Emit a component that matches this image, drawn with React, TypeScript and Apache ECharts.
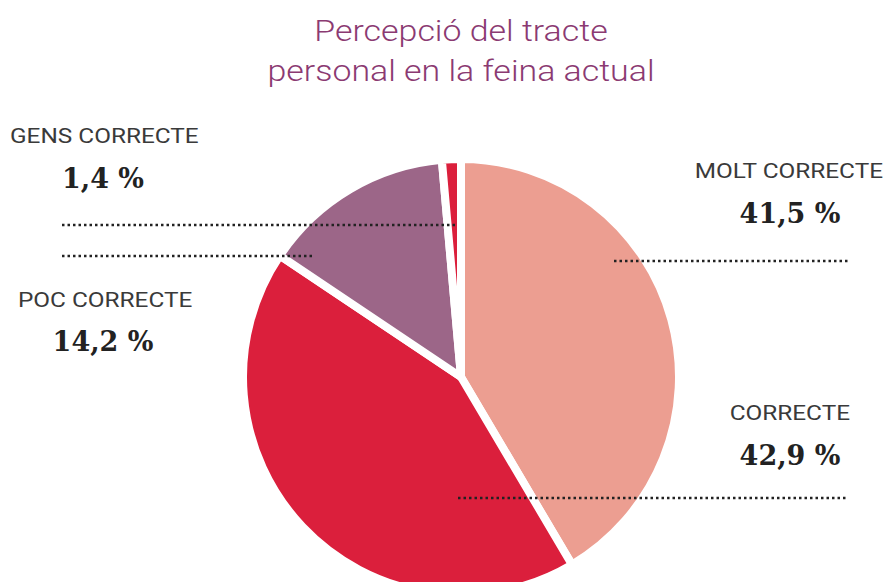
import React, { useEffect, useRef } from "react";
import * as echarts from "echarts";

const categories = ["MOLT CORRECTE", "CORRECTE", "POC CORRECTE", "GENS CORRECTE"];
const values = [41.5, 42.9, 14.2, 1.4];
const colors = ["#EC9E91", "#DB1F3C", "#9C6688", "#DB1F3C"];
const titleLines = ["Percepció del tracte", "personal en la feina actual"];

// label layout (positions only)
const labelPos = [
  { nameX: 883, nameY: 171, nameAlign: "right", valX: 790, valY: 213, line: [614, 848, 261] },
  { nameX: 850, nameY: 413, nameAlign: "right", valX: 790, valY: 455, line: [458, 848, 498] },
  { nameX: 18, nameY: 300, nameAlign: "left", valX: 103, valY: 341, line: [62, 315, 256] },
  { nameX: 10, nameY: 136, nameAlign: "left", valX: 103, valY: 178, line: [62, 455, 225] },
];

const fmt = (v: number) => v.toFixed(1).replace(".", ",") + " %";

export default function App() {
  const ref = useRef<HTMLDivElement>(null);
  useEffect(() => {
    document.body.style.margin = "0";
    const chart = echarts.init(ref.current!, null, { renderer: "svg" });
    const graphics: any[] = [];
    titleLines.forEach((t, i) => {
      graphics.push({
        type: "text",
        x: 461,
        y: 31 + i * 40,
        scaleX: 1.13,
        style: {
          text: t,
          fill: "#8B3A72",
          font: "300 30px Roboto",
          textAlign: "center",
          textVerticalAlign: "middle",
        },
      });
    });
    categories.forEach((c, i) => {
      const p = labelPos[i];
      graphics.push({
        type: "text",
        x: p.nameX,
        y: p.nameY,
        z: 10,
        scaleX: 1.16,
        style: {
          text: c,
          fill: "#3a3a3a",
          font: "400 21px Roboto",
          textAlign: p.nameAlign,
          textVerticalAlign: "middle",
        },
      });
      graphics.push({
        type: "text",
        x: p.valX,
        y: p.valY,
        z: 10,
        style: {
          text: fmt(values[i]),
          fill: "#222",
          font: "bold 27px 'DejaVu Serif'",
          textAlign: "center",
          textVerticalAlign: "middle",
        },
      });
      graphics.push({
        type: "line",
        z: 10,
        shape: { x1: p.line[0], y1: p.line[2], x2: p.line[1], y2: p.line[2] },
        style: { stroke: "#222", lineWidth: 2.5, lineDash: [2.5, 3] },
      });
    });
    chart.setOption({
      animation: false,
      backgroundColor: "#fff",
      graphic: graphics,
      series: [
        {
          type: "pie",
          center: [461, 377],
          radius: [0, 218],
          startAngle: 90,
          clockwise: true,
          label: { show: false },
          labelLine: { show: false },
          emphasis: { disabled: true },
          itemStyle: { borderColor: "#fff", borderWidth: 8 },
          data: categories.map((c, i) => ({
            name: c,
            value: values[i],
            itemStyle: { color: colors[i] },
          })),
        },
      ],
    });
    return () => chart.dispose();
  }, []);
  return <div ref={ref} style={{ width: 885, height: 582 }} />;
}
